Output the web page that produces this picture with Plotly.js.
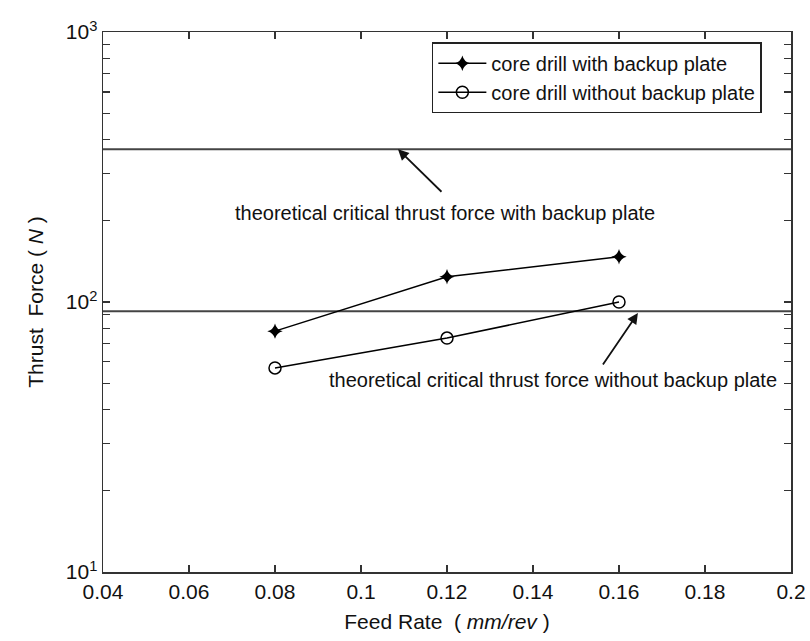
<!DOCTYPE html>
<html>
<head>
<meta charset="utf-8">
<script src="https://cdn.plot.ly/plotly-3.0.1.min.js"></script>
<style>html,body{margin:0;padding:0;background:#fff}#plot{width:810px;height:641px}</style>
</head>
<body>
<div id="plot"></div>
<script>
// Data
const feedRate = [0.08, 0.12, 0.16];
const withPlate = [78, 124, 147];
const withoutPlate = [57, 73.5, 100];
const critFeedRange = [0.04, 0.2];
const critWithPlate = [368, 368];
const critWithoutPlate = [92.5, 92.5];
const xTickVals = [0.04, 0.06, 0.08, 0.1, 0.12, 0.14, 0.16, 0.18, 0.2];
const xTickText = ["0.04", "0.06", "0.08", "0.1", "0.12", "0.14", "0.16", "0.18", "0.2"];
const yTickVals = [10, 100, 1000];
const yTickText = ["10<sup>1</sup>", "10<sup>2</sup>", "10<sup>3</sup>"];
const yMinorVals = [20,30,40,50,60,70,80,90,200,300,400,500,600,700,800,900];
const seriesNames = ["core drill with backup plate", "core drill without backup plate"];
const labelWith = "theoretical critical thrust force with backup plate";
const labelWithout = "theoretical critical thrust force without backup plate";

const FONT = "Liberation Sans, Arial, sans-serif";
const traces = [
  {x: critFeedRange, y: critWithPlate, mode: "lines", line: {color: "#444", width: 2}, showlegend: false, hoverinfo: "skip"},
  {x: critFeedRange, y: critWithoutPlate, mode: "lines", line: {color: "#444", width: 2}, showlegend: false, hoverinfo: "skip"},
  {x: feedRate, y: withPlate, name: seriesNames[0], mode: "lines+markers",
   line: {color: "#000", width: 1.5}, marker: {symbol: "star-diamond", size: 11, color: "#000"}},
  {x: feedRate, y: withoutPlate, name: seriesNames[1], mode: "lines+markers",
   line: {color: "#000", width: 1.5}, marker: {symbol: "circle-open", size: 12, color: "#000", line: {width: 1.5}}}
];

const axisCommon = {
  showgrid: false, zeroline: false, showline: true, linecolor: "#333", linewidth: 1.5,
  mirror: "allticks", ticks: "inside", ticklen: 7, tickwidth: 1.2, tickcolor: "#333",
  tickfont: {family: FONT, size: 21, color: "#111"}
};

const layout = {
  width: 810, height: 641,
  margin: {l: 103, r: 19, t: 32, b: 69},
  paper_bgcolor: "#fff", plot_bgcolor: "#fff",
  font: {family: FONT, color: "#111"},
  xaxis: Object.assign({}, axisCommon, {
    range: [0.04, 0.2], tickmode: "array", tickvals: xTickVals, ticktext: xTickText,
    title: {text: "Feed Rate  ( <i>mm/rev</i> )", font: {family: FONT, size: 21, color: "#111"}, standoff: 12}
  }),
  yaxis: Object.assign({}, axisCommon, {
    type: "log", range: [1, 3], tickmode: "array", tickvals: yTickVals, ticktext: yTickText,
    minor: {tickmode: "array", tickvals: yMinorVals, ticks: "inside", ticklen: 7, tickwidth: 1.2, tickcolor: "#333", showgrid: false},
    title: {text: "Thrust  Force ( <i>N</i> )", font: {family: FONT, size: 21, color: "#111"}, standoff: 16}
  }),
  legend: {
    x: 0.478, y: 0.981, xanchor: "left", yanchor: "top",
    bgcolor: "#fff", bordercolor: "#222", borderwidth: 1.5, itemwidth: 48,
    font: {family: FONT, size: 20, color: "#111"}, tracegroupgap: 0
  },
  annotations: [
    {x: 0.1086, y: Math.log10(368), xref: "x", yref: "y", text: "", showarrow: true,
     arrowhead: 2, arrowsize: 1.2, arrowwidth: 1.8, arrowcolor: "#111", ax: 45, ay: 44},
    {x: 0.1195, y: Math.log10(214), xref: "x", yref: "y", text: labelWith, showarrow: false,
     font: {family: FONT, size: 20, color: "#111"}},
    {x: 0.1644, y: Math.log10(91), xref: "x", yref: "y", text: "", showarrow: true,
     arrowhead: 2, arrowsize: 1.2, arrowwidth: 1.8, arrowcolor: "#111", ax: -36, ay: 53},
    {x: 0.1447, y: Math.log10(51.4), xref: "x", yref: "y", text: labelWithout, showarrow: false,
     font: {family: FONT, size: 20, color: "#111"}}
  ]
};

Plotly.newPlot("plot", traces, layout, {staticPlot: true});
</script>
</body>
</html>
